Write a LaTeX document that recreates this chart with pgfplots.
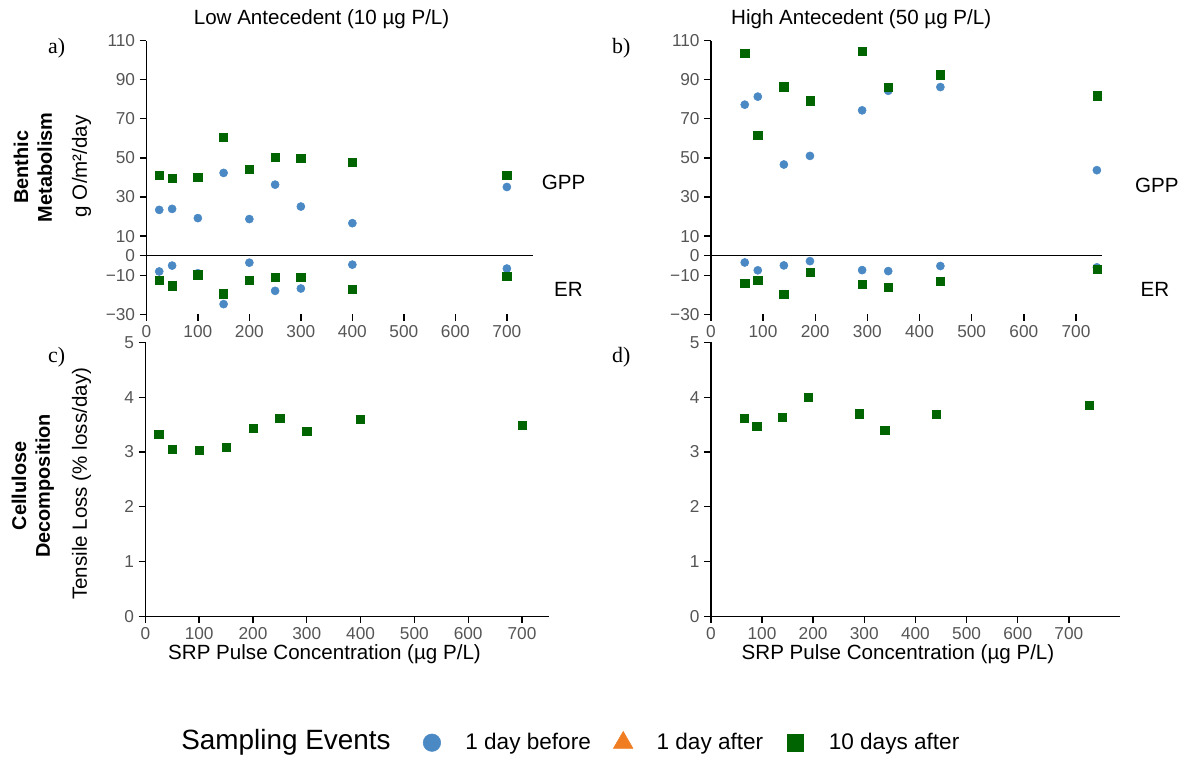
\documentclass[border=0pt]{standalone}
\usepackage{fontspec}
\setmainfont{Liberation Sans}
\newfontfamily\tnr{Liberation Serif}
\usepackage{pgfplots}
\usepackage{pgfplotstable}
\pgfplotsset{compat=1.18}

\definecolor{bef}{RGB}{74,137,196}
\definecolor{aft}{RGB}{240,125,34}
\definecolor{ten}{RGB}{0,100,0}
\definecolor{tickgray}{RGB}{85,85,85}

% benthic metabolism, low antecedent
\pgfplotstableread{
x   gppb  erb    gppg  erg
25  23.4  -8.1   41.1  -12.4
50  23.9  -5.1   39.5  -15.4
100 19.2  -9.0   40.0  -9.8
150 42.3  -24.8  60.4  -19.5
200 18.7  -3.6   44.1  -12.4
250 36.3  -18.0  50.2  -11.2
300 25.1  -16.8  49.7  -11.2
400 16.6  -4.6   47.7  -17.0
700 35.1  -6.6   41.1  -10.7
}\metlow
% benthic metabolism, high antecedent
\pgfplotstableread{
x   gppb  erb   gppg   erg
65  77.2  -3.5  103.4  -14.0
90  81.3  -7.5  61.4   -12.6
140 46.6  -5.0  86.4   -19.8
190 51.0  -2.8  79.2   -8.6
290 74.3  -7.4  104.7  -14.7
340 84.3  -7.9  86.0   -16.0
440 86.2  -5.3  92.5   -13.1
740 43.7  -6.0  81.8   -7.0
}\methigh
% cellulose decomposition
\pgfplotstableread{
x   tl
25  3.33
50  3.05
100 3.03
150 3.09
200 3.44
250 3.62
300 3.38
400 3.60
700 3.49
}\celllow
\pgfplotstableread{
x   tl
65  3.62
90  3.47
140 3.64
190 4.00
290 3.70
340 3.40
440 3.69
740 3.85
}\cellhigh

\pgfplotsset{
  panel/.style={
    scale only axis,
    anchor=south west,
    axis x line*=bottom, axis y line*=left,
    axis line style={-, line width=1.1pt},
    tick align=outside,
    major tick length=5pt,
    tick style={black, line width=1pt},
    ticklabel style={font=\fontsize{13}{15}\selectfont, text=tickgray},
    /pgf/number format/assume math mode=true,
    xtick={0,100,...,700},
    xmin=0,
    clip=false,
  },
  bsty/.style={only marks, mark=*, mark size=3.05pt, color=bef},
  gsty/.style={only marks, mark=square*, mark size=3.1pt, color=ten},
  metab/.style={panel, ymin=-30, ymax=110,
    ytick={-30,-10,0,10,30,50,70,90,110},
    yticklabels={−30,−10,0,10,30,50,70,90,110},
    x axis line style={draw=none}},
  cell/.style={panel, ymin=0, ymax=5, ytick={0,1,...,5}},
}

\begin{document}
\begin{tikzpicture}[x=0.75pt,y=0.75pt]
\path (0,0) rectangle (1183,-761);

% a) low antecedent metabolism
\begin{axis}[metab, at={(147*0.75pt,-315.7*0.75pt)}, width=291pt, height=206.25pt, xmax=750]
\draw[line width=1.1pt] (axis cs:0,0) -- (axis cs:750,0);
\addplot[bsty] table[x=x,y=gppb] {\metlow};
\addplot[bsty] table[x=x,y=erb] {\metlow};
\addplot[gsty] table[x=x,y=gppg] {\metlow};
\addplot[gsty] table[x=x,y=erg] {\metlow};
\end{axis}

% b) high antecedent metabolism
\begin{axis}[metab, at={(714*0.75pt,-315.7*0.75pt)}, width=294.75pt, height=206.25pt, xmax=750]
\draw[line width=1.1pt] (axis cs:0,0) -- (axis cs:750,0);
\addplot[bsty] table[x=x,y=gppb] {\methigh};
\addplot[bsty] table[x=x,y=erb] {\methigh};
\addplot[gsty] table[x=x,y=gppg] {\methigh};
\addplot[gsty] table[x=x,y=erg] {\methigh};
\end{axis}

% c) low antecedent cellulose
\begin{axis}[cell, at={(146*0.75pt,-619*0.75pt)}, width=304pt, height=206.25pt, xmax=750]
\addplot[gsty] table[x=x,y=tl] {\celllow};
\end{axis}

% d) high antecedent cellulose
\begin{axis}[cell, at={(714*0.75pt,-619*0.75pt)}, width=308.25pt, height=206.25pt, xmax=800]
\addplot[gsty] table[x=x,y=tl] {\cellhigh};
\end{axis}

% legend
\begin{axis}[at={(420*0.75pt,-746*0.75pt)}, anchor=south west, hide axis, scale only axis,
  width=1pt, height=1pt, xmin=0, xmax=1, ymin=0, ymax=1,
  legend columns=-1,
  legend style={at={(0,0)}, anchor=west, draw=none, fill=none,
    font=\fontsize{17}{20}\selectfont, nodes={inner xsep=0pt},
    /tikz/every even column/.append style={column sep=17pt}},
  legend image code/.code={\draw[#1] plot coordinates {(0pt,0pt)}; \path (-7pt,0pt) (25pt,0pt);}]
\addlegendimage{mark=*, color=bef, mark size=6.6pt}
\addlegendentry{1 day before}
\addlegendimage{mark=triangle*, color=aft, mark size=8.5pt}
\addlegendentry{1 day after}
\addlegendimage{mark=square*, color=ten, mark size=6.2pt}
\addlegendentry{10 days after}
\end{axis}
\node[anchor=east, font=\fontsize{21}{24}\selectfont] at (397,-746) {Sampling Events};

% titles and labels
\node[font=\fontsize{15.5}{18}\selectfont] at (323,-19) {Low Antecedent (10 µg P/L)};
\node[font=\fontsize{15.5}{18}\selectfont] at (865,-19) {High Antecedent (50 µg P/L)};
\node[font=\tnr\fontsize{16.5}{18}\selectfont] at (57,-48) {a)};
\node[font=\tnr\fontsize{16.5}{18}\selectfont] at (624,-48) {b)};
\node[font=\tnr\fontsize{16.5}{18}\selectfont] at (57,-359) {c)};
\node[font=\tnr\fontsize{16.5}{18}\selectfont] at (624,-359) {d)};
\node[font=\fontsize{15.5}{18}\selectfont] at (566,-183) {GPP};
\node[font=\fontsize{15.5}{18}\selectfont] at (1162,-186) {GPP};
\node[font=\fontsize{15.5}{18}\selectfont] at (571,-291) {ER};
\node[font=\fontsize{15.5}{18}\selectfont] at (1160,-291) {ER};
\node[rotate=90, align=center, font=\bfseries\fontsize{15}{18}\selectfont] at (33,-168) {Benthic\\Metabolism};
\node[rotate=90, font=\fontsize{15.5}{18}\selectfont] at (82,-167) {g O/m²/day};
\node[rotate=90, align=center, font=\bfseries\fontsize{15}{18}\selectfont] at (33,-488) {Cellulose\\Decomposition};
\node[rotate=90, font=\fontsize{15.5}{18}\selectfont] at (82,-486) {Tensile Loss (\% loss/day)};
\node[font=\fontsize{15.5}{18}\selectfont] at (326,-657) {SRP Pulse Concentration (µg P/L)};
\node[font=\fontsize{15.5}{18}\selectfont] at (902,-657) {SRP Pulse Concentration (µg P/L)};
\end{tikzpicture}
\end{document}
